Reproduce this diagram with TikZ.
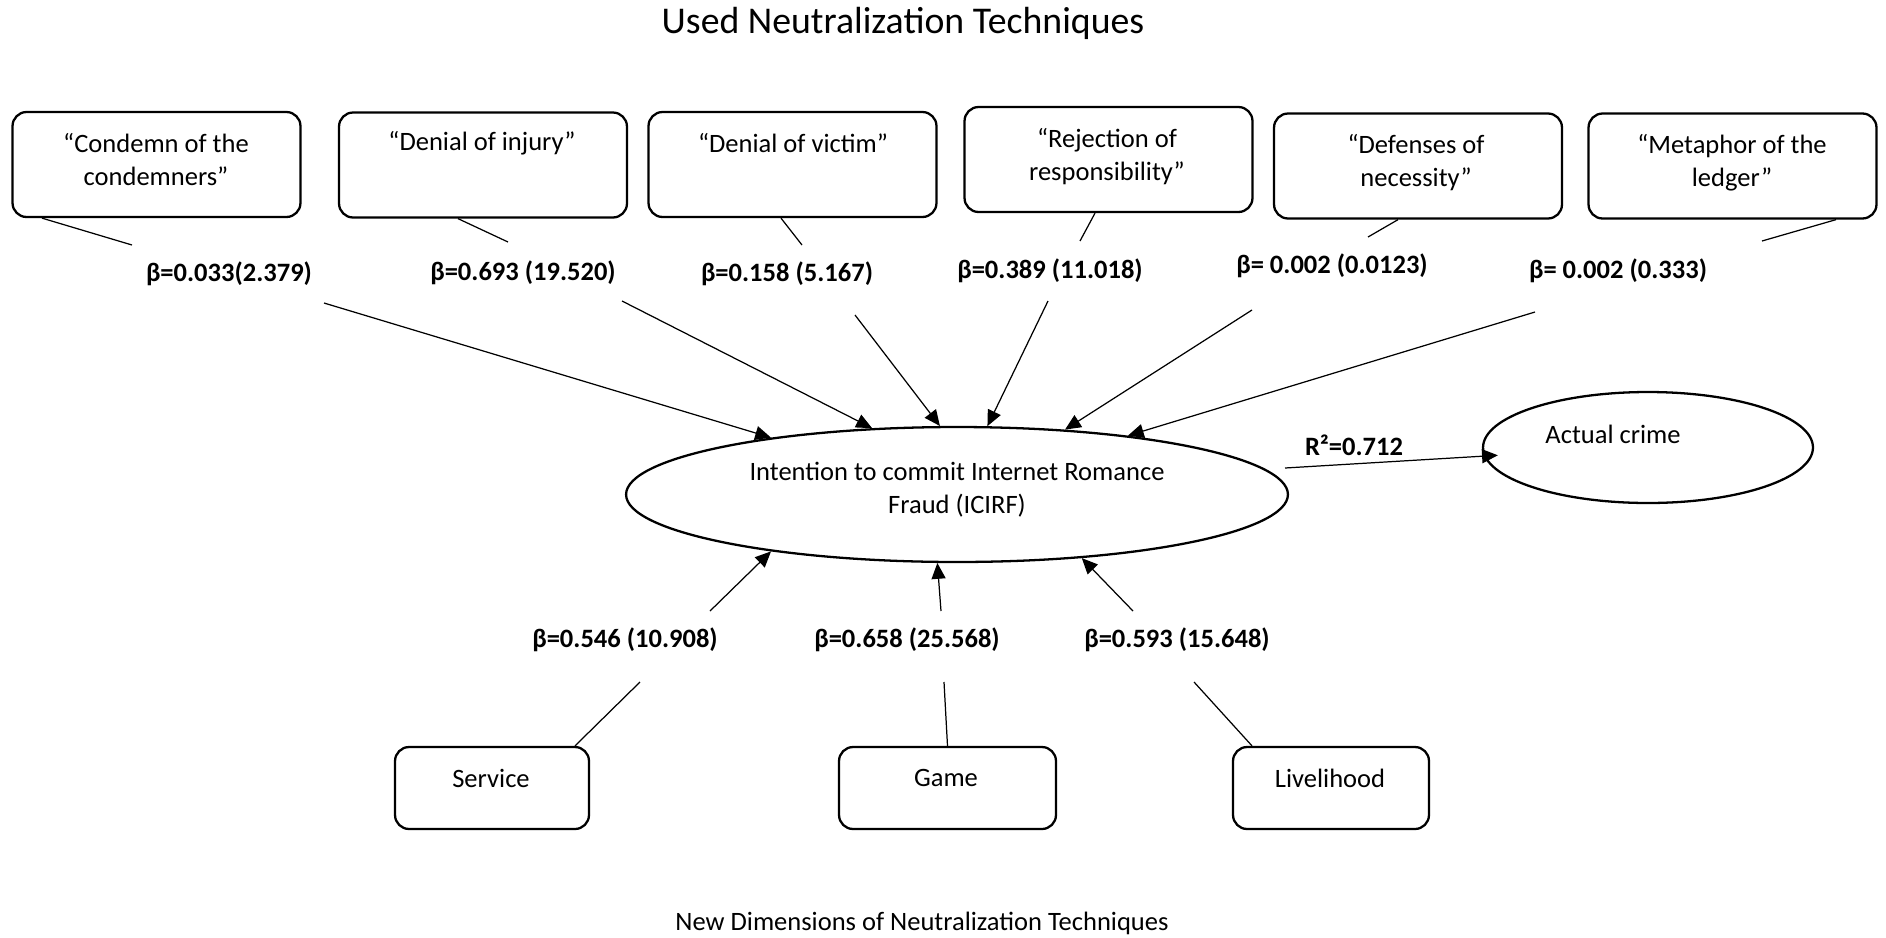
\documentclass[tikz,border=0pt]{standalone}
\usepackage{fontspec}
\setmainfont{Carlito}
\usetikzlibrary{arrows.meta,shapes.geometric}

\tikzset{
  tbox/.style={draw, line width=1.3pt, rounded corners=8pt, inner sep=0pt,
    minimum width=5.76cm, minimum height=2.1cm},
  dbox/.style={draw, line width=1.3pt, rounded corners=8pt, inner sep=0pt,
    minimum height=1.64cm},
  oval/.style={draw, ellipse, line width=1.3pt, inner sep=0pt},
  coef/.style={font=\fontsize{15.1}{18.8}\selectfont\bfseries},
  link/.style={line width=0.7pt},
  effect/.style={line width=0.7pt, -{Triangle[length=9pt,width=8pt]}}
}

\begin{document}
\begin{tikzpicture}[x=0.02cm, y=-0.02cm, font=\fontsize{15.1}{18.8}\selectfont]
        \useasboundingbox (0,0) rectangle (1886,937);
        \node[font=\fontsize{21.5}{25}\selectfont] (title) at (903,23) {Used Neutralization Techniques};

        % used techniques
        \node[tbox] (condemn) at (156.5,164.5) {};
        \node[tbox] (injury) at (483,165) {};
        \node[tbox] (victim) at (792.5,164.5) {};
        \node[tbox] (reject) at (1108.5,159.5) {};
        \node[tbox] (necess) at (1418,166) {};
        \node[tbox] (ledger) at (1732.5,166) {};
        \node[align=center] (condemnt) at (156,159.5) {“Condemn of the\\condemners”};
        \node (injuryt) at (482,143) {“Denial of injury”};
        \node (victimt) at (793,143) {“Denial of victim”};
        \node[align=center] (rejectt) at (1107,156.5) {“Rejection of\\responsibility”};
        \node[align=center] (necesst) at (1416,162.5) {“Defenses of\\necessity”};
        \node[align=center] (ledgert) at (1732,162.5) {“Metaphor of the\\ledger”};

        \node[coef] (b1) at (229,274) {β=0.033(2.379)};
        \node[coef] (b2) at (523,273) {β=0.693 (19.520)};
        \node[coef] (b3) at (787,274) {β=0.158 (5.167)};
        \node[coef] (b4) at (1050,271) {β=0.389 (11.018)};
        \node[coef] (b5) at (1332,266) {β= 0.002 (0.0123)};
        \node[coef] (b6) at (1618,271) {β= 0.002 (0.333)};

        % outcome
        \node[oval, minimum width=13.24cm, minimum height=2.7cm] (icirf) at (957,494.5) {};
        \node[align=center] (icirft) at (957,489.5) {Intention to commit Internet Romance\\Fraud (ICIRF)};
        \node[oval, minimum width=6.6cm, minimum height=2.22cm] (crime) at (1648,447.5) {};
        \node (crimet) at (1613,434) {Actual crime};
        \node[coef] (r2) at (1354,445) {R²=0.712};

        % new dimensions
        \node[dbox, minimum width=3.88cm] (service) at (492,788) {};
        \node[dbox, minimum width=4.34cm] (game) at (947.5,788) {};
        \node[dbox, minimum width=3.92cm] (liveli) at (1331,788) {};
        \node (servicet) at (491,778) {Service};
        \node (gamet) at (946,778) {Game};
        \node (livelit) at (1330,778) {Livelihood};
        \node[coef] (b7) at (625,640) {β=0.546 (10.908)};
        \node[coef] (b8) at (907,640) {β=0.658 (25.568)};
        \node[coef] (b9) at (1177,640) {β=0.593 (15.648)};
        \node (footer) at (922,923) {New Dimensions of Neutralization Techniques};

        % line ends near the labels
        \coordinate (e1) at (132,245);
        \coordinate (e2) at (508,242);
        \coordinate (e3) at (802,245);
        \coordinate (e4) at (1080,241);
        \coordinate (e5) at (1368,237);
        \coordinate (e6) at (1762,241);
        \coordinate (s1) at (324,303);
        \coordinate (s2) at (622,301);
        \coordinate (s3) at (855,315);
        \coordinate (s4) at (1048,301);
        \coordinate (s5) at (1252,310);
        \coordinate (s6) at (1535,312);
        \coordinate (e7) at (640,682);
        \coordinate (e8) at (944,682);
        \coordinate (e9) at (1194,682);
        \coordinate (s7) at (710,611);
        \coordinate (s8) at (941,611);
        \coordinate (s9) at (1133,611);
        \coordinate (r2s) at (1285,468);

        \draw[link] ([shift={(-114.5,0)}]condemn.south) -- (e1);
        \draw[link] ([shift={(-25,0)}]injury.south) -- (e2);
        \draw[link] ([shift={(-11.5,0)}]victim.south) -- (e3);
        \draw[link] ([shift={(-13.5,0)}]reject.south) -- (e4);
        \draw[link] ([shift={(-20,0)}]necess.south) -- (e5);
        \draw[link] ([shift={(103.5,0)}]ledger.south) -- (e6);

        \draw[effect] (s1) -- (icirf.163.4);
        \draw[effect] (s2) -- (icirf.142);
        \draw[effect] (s3) -- (icirf.104);
        \draw[effect] (s4) -- (icirf.66.8);
        \draw[effect] (s5) -- (icirf.31.6);
        \draw[effect] (s6) -- (icirf.19.5);

        \draw[link] ([shift={(83,0)}]service.north) -- (e7);
        \draw[link] (game.north) -- (e8);
        \draw[link] ([shift={(-79,0)}]liveli.north) -- (e9);
        \draw[effect] (s7) -- (icirf.197.9);
        \draw[effect] (s8) -- (icirf.254);
        \draw[effect] (s9) -- (icirf.333.9);

        \draw[effect, shorten >=-8pt] (r2s) -- (crime.183.4);
    \end{tikzpicture}
\end{document}
